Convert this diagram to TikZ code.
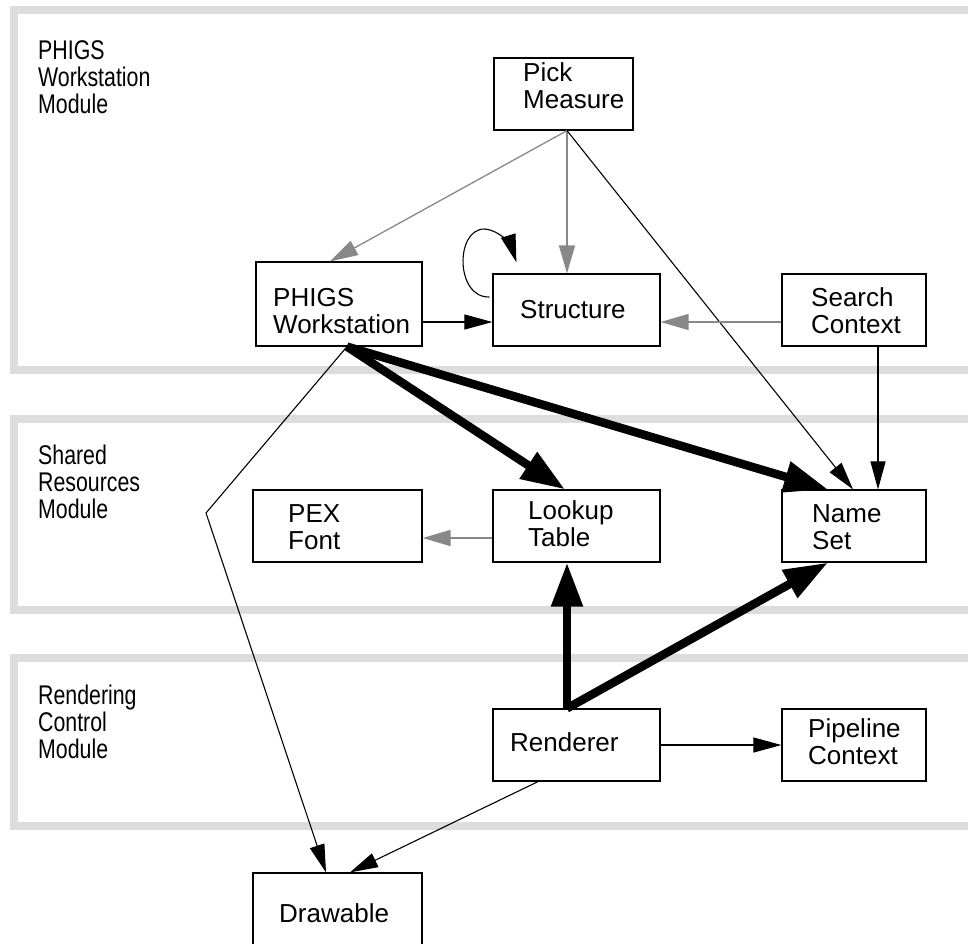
\documentclass[tikz,border=0pt]{standalone}
\usepackage{fontspec}
\setmainfont{Liberation Sans}
\usetikzlibrary{arrows.meta,calc}
\definecolor{framegray}{RGB}{221,221,221}
\definecolor{linegray}{RGB}{136,136,136}
\newcommand{\nrw}[1]{\scalebox{0.79}[1]{#1}}
\begin{document}
\begin{tikzpicture}[x=1pt,y=-1pt,
  box/.style={draw=black,line width=1.2pt,inner sep=0pt,rectangle},
  txt/.style={anchor=base west,inner sep=0pt,align=left,font=\fontsize{26}{26.5}\selectfont},
  modlbl/.style={anchor=base west,inner sep=0pt,align=left,font=\fontsize{27}{27}\selectfont},
  frm/.style={draw=framegray,line width=8pt},
  thinarr/.style={draw=black,line width=1.1pt,-{Triangle[length=28pt,width=15pt]}},
  grayarr/.style={draw=linegray,line width=1.3pt,-{Triangle[length=28pt,width=16pt]}},
  heavy/.style={draw=black,line width=8.5pt,-{Triangle[length=44pt,width=30pt]}}]
\useasboundingbox (0,0) rectangle (968,943);
% module frames
\draw[frm] (990,10) -- (14,10) -- (14,370) -- (990,370);
\draw[frm] (990,419) -- (14,419) -- (14,610) -- (990,610);
\draw[frm] (990,658) -- (14,658) -- (14,826) -- (990,826);
% module labels (anchored at the baseline of the last line)
\node[modlbl] (m1) at (38,113) {\nrw{PHIGS}\\\nrw{Workstation}\\\nrw{Module}};
\node[modlbl] (m2) at (38,518) {\nrw{Shared}\\\nrw{Resources}\\\nrw{Module}};
\node[modlbl] (m3) at (38,758) {\nrw{Rendering}\\\nrw{Control}\\\nrw{Module}};
% boxes
\node[box,minimum width=139pt,minimum height=72pt] (pick) at (563.5,94) {};
\node[box,minimum width=166pt,minimum height=84pt] (ws) at (339,304) {};
\node[box,minimum width=167pt,minimum height=72pt] (st) at (576.5,310) {};
\node[box,minimum width=144pt,minimum height=72pt] (sc) at (854,310) {};
\node[box,minimum width=167pt,minimum height=72pt] (lt) at (576.5,526) {};
\node[box,minimum width=169pt,minimum height=72pt] (pf) at (337.5,526) {};
\node[box,minimum width=144pt,minimum height=72pt] (ns) at (854,526) {};
\node[box,minimum width=167pt,minimum height=72pt] (rd) at (576.5,745) {};
\node[box,minimum width=144pt,minimum height=72pt] (pc) at (854,745) {};
\node[box,minimum width=169pt,minimum height=90pt] (dr) at (337.5,918) {};
% texts (anchored at the baseline of the last line)
\node[txt] (pickT) at (523,108) {Pick\\Measure};
\node[txt] (wsT) at (273,333) {PHIGS\\Workstation};
\node[txt] (stT) at (520,318) {Structure};
\node[txt] (scT) at (811,333) {Search\\Context};
\node[txt] (ltT) at (528,546) {Lookup\\Table};
\node[txt] (pfT) at (288,549) {PEX\\Font};
\node[txt] (nsT) at (812,549) {Name\\Set};
\node[txt] (rdT) at (510,751) {Renderer};
\node[txt] (pcT) at (808,764) {Pipeline\\Context};
\node[txt] (drT) at (279,922) {Drawable};
% connectors
\coordinate (pk) at ([xshift=3.5pt]pick.south);
\draw[grayarr] (pk) -- ([xshift=-9pt]ws.north);
\draw[grayarr] (pk) -- ([xshift=-9.5pt]st.north);
\draw[thinarr] (pk) -- ([xshift=-1pt]ns.north);
\coordinate (wsr) at ([yshift=-18pt]ws.east);
\draw[thinarr] (wsr) -- (wsr -| st.west);
\coordinate (scl) at ([yshift=-12pt]sc.west);
\draw[grayarr] (scl) -- (scl -| st.east);
\draw[thinarr] ([shift={(-3pt,13pt)}]st.west) .. controls (455,298) and (455,228) .. (485,229)
  .. controls (500,230) and (512,248) .. ([shift={(24pt,11pt)}]st.north west);
\coordinate (wsb) at ([xshift=8pt]ws.south);
\draw[heavy] (wsb) -- ([xshift=-11.5pt]lt.north);
\draw[heavy] (wsb) -- ([xshift=-26pt]ns.north);
\coordinate (rdt) at ([xshift=-9.5pt]rd.north);
\draw[heavy] (rdt) -- ([xshift=-9.5pt]lt.south);
\draw[heavy] (rdt) -- ([xshift=-26pt]ns.south);
\coordinate (bend) at (206,513);
\draw[thinarr] (wsb) -- (bend) -- ([xshift=-11.5pt]dr.north);
\draw[thinarr] (rd.east) -- (pc.west);
\draw[thinarr] ([xshift=-38.5pt]rd.south) -- ([xshift=12.5pt]dr.north);
\draw[grayarr] ([yshift=-12pt]lt.west) -- ([yshift=-12pt]pf.east);
\draw[thinarr] ([xshift=24pt]sc.south) -- ([xshift=24pt]ns.north);
\end{tikzpicture}
\end{document}
